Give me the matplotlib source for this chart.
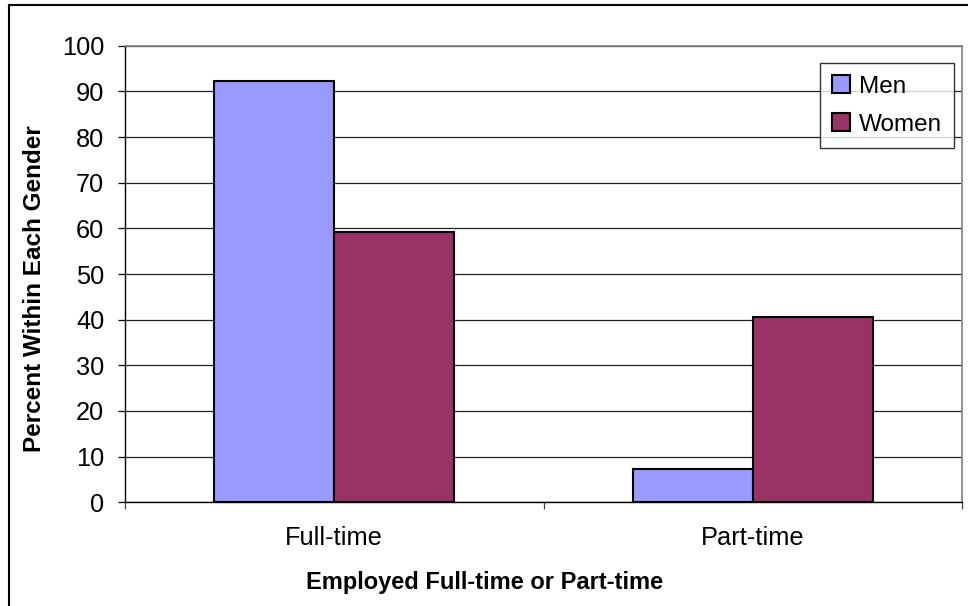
import matplotlib
matplotlib.use("Agg")
import matplotlib.pyplot as plt
import numpy as np
from matplotlib.lines import Line2D

plt.rcParams['font.family'] = ['Liberation Sans', 'DejaVu Sans']

categories = ["Full-time", "Part-time"]
men = [92.3, 7.4]
women = [59.1, 40.6]
series_names = ["Men", "Women"]
colors = ["#9999FF", "#993366"]
y_ticks = [0, 10, 20, 30, 40, 50, 60, 70, 80, 90, 100]

W, H = 968, 606
fig = plt.figure(figsize=(W / 100, H / 100), dpi=100)
ax = fig.add_axes([125 / W, (H - 502.3) / H, (962 - 125) / W, (502.3 - 45.7) / H])

x = np.arange(len(categories))
bw = 120 / 418.5
ax.bar(x - bw / 2, men, bw, color=colors[0], edgecolor="black", linewidth=1.5,
       label=series_names[0], zorder=3)
ax.bar(x + bw / 2, women, bw, color=colors[1], edgecolor="black", linewidth=1.5,
       label=series_names[1], zorder=3)

ax.set_xlim(-0.5, len(categories) - 0.5)
ax.set_ylim(0, 100)
ax.set_yticks(y_ticks)
ax.yaxis.grid(True, color="#222222", linewidth=0.9, zorder=0)
ax.set_axisbelow(True)

ax.set_xticks(x)
ax.set_xticklabels(categories)
ax.set_xticks(np.arange(len(categories) + 1) - 0.5, minor=True)
ax.tick_params(axis="x", which="major", length=0, pad=17, labelsize=18.3)
ax.tick_params(axis="x", which="minor", length=5, width=0.9, direction="out", color="#444444")
ax.tick_params(axis="y", length=5, width=0.9, direction="out", pad=10, labelsize=18.3)

for s in ["top", "right"]:
    ax.spines[s].set_color("#808080")
    ax.spines[s].set_linewidth(1.2)
for s in ["left", "bottom"]:
    ax.spines[s].set_color("black")
    ax.spines[s].set_linewidth(1.0)

leg = ax.legend(loc="upper left", bbox_to_anchor=((820 - 125) / 837, 1 - (63 - 45.7) / 456.6),
                frameon=True, fancybox=False, edgecolor="black", fontsize=17.5,
                handlelength=0.75, handleheight=0.75, handletextpad=0.35,
                labelspacing=0.65, borderpad=0.5, borderaxespad=0)
leg.get_frame().set_linewidth(1.0)

fig.text(35 / W, 1 - 289 / H, "Percent Within Each Gender", rotation=90,
         ha="center", va="center", fontsize=17.5, fontweight="bold")
fig.text(485 / W, 1 - 583 / H, "Employed Full-time or Part-time",
         ha="center", va="center", fontsize=17, fontweight="bold")

# chart outer frame
fig.add_artist(Line2D([9 / W, 9 / W], [0, 1 - 5 / H], transform=fig.transFigure,
                      color="black", linewidth=1.5))
fig.add_artist(Line2D([9 / W, 1], [1 - 5 / H, 1 - 5 / H], transform=fig.transFigure,
                      color="black", linewidth=1.5))

fig.savefig("out.png", dpi=100, facecolor="white")
